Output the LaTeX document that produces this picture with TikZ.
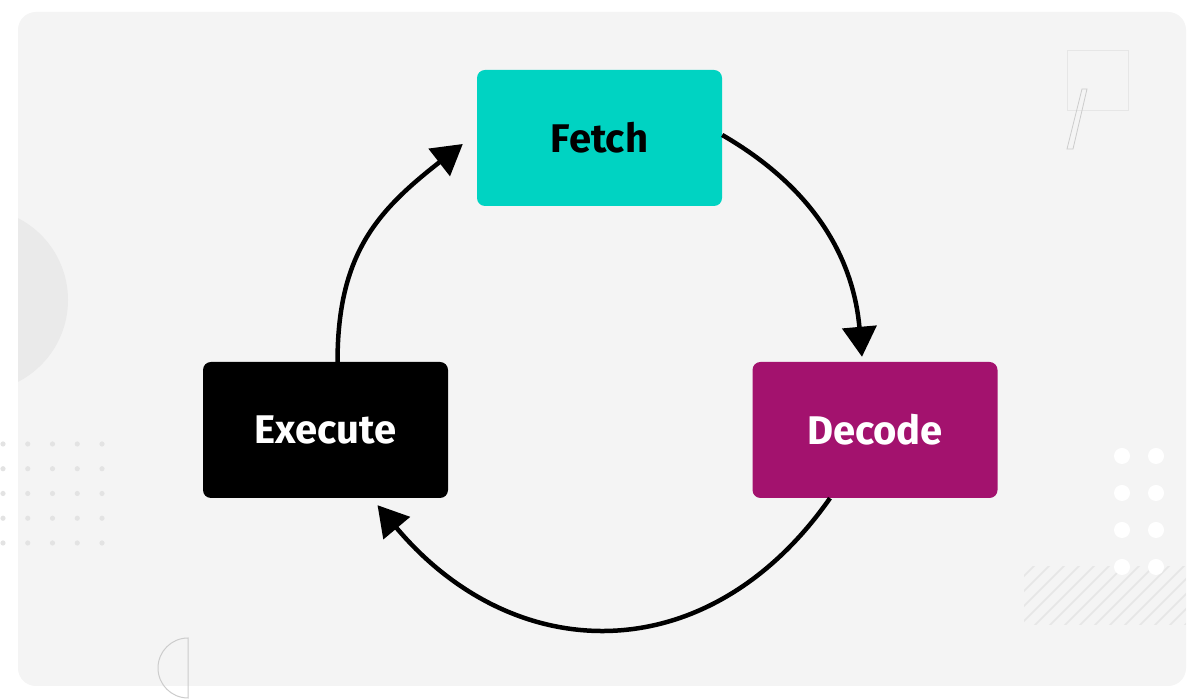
\documentclass[tikz,border=0pt]{standalone}
\usepackage{fontspec}
\setmainfont{Fira Sans}
\definecolor{fetchteal}{HTML}{00D3C2}
\definecolor{decodepurple}{HTML}{A3126E}
\definecolor{panelgray}{HTML}{F4F4F4}
\definecolor{blobgray}{HTML}{EAEAEA}
\definecolor{dotgray}{HTML}{E3E3E3}
\definecolor{squaregray}{HTML}{E6E6E6}
\definecolor{linegray}{HTML}{CCCCCC}
\usetikzlibrary{arrows.meta,positioning}

\begin{document}
\begin{tikzpicture}[x=1pt,y=1pt]
\tikzstyle{stage}=[rectangle, rounded corners=8pt, minimum width=245pt, minimum height=136pt, inner sep=0pt, font=\fontsize{40}{44}\selectfont\bfseries]
\tikzstyle{loopline}=[-{Triangle[length=30pt,width=34pt]}, line width=4.5pt, black]
\tikzstyle{deco}=[draw=linegray, line width=1pt]

\useasboundingbox (0,0) rectangle (1200,700);
\fill[white] (0,0) rectangle (1200,700);
\fill[panelgray, rounded corners=18pt] (18,14) rectangle (1186,688);

% background bits
\begin{scope}
  \clip[rounded corners=18pt] (18,14) rectangle (1186,688);
  \fill[blobgray] (-24,400) circle (92pt);
  \clip (1024,75) rectangle (1186,133);
  \foreach \k in {0,...,18}
    \draw[squaregray, line width=1.5pt] (930+15*\k,60) -- ++(90,90);
\end{scope}
\foreach \i in {0,...,4}
  \foreach \j in {0,...,4}
    \fill[dotgray] (3+24.75*\i,256-24.75*\j) circle (2.6pt);
\foreach \x in {1122,1156}
  \foreach \y in {244,207,170,133}
    \fill[white] (\x,\y) circle (8pt);
\draw[deco] (188,62) arc (90:270:30pt) -- cycle;
\draw[squaregray, line width=1pt] (1067,589) rectangle (1128,649);
\draw[deco, line width=0.8pt] (1082,611) -- (1087,611) -- (1073,551) -- (1067,551) -- cycle;

	\node[stage, fill=fetchteal, text=black] (fetch) at (599.5,562) {Fetch};
	\node[stage, fill=decodepurple, text=white] (decode) at (875,270) {Decode};
	\node[stage, fill=black, text=white] (execute) at (325.5,270) {Execute};

	\draw[loopline] (execute.80) to[out=90,in=-142,looseness=1.1] ([xshift=-14pt,yshift=-6pt]fetch.west);
	\draw[loopline] ([yshift=3pt]fetch.east) to[out=-30,in=95] ([xshift=-13pt,yshift=5pt]decode.north);
	\draw[loopline] ([xshift=-45pt]decode.south) to[out=-125,in=-50,looseness=1.2] ([xshift=52pt,yshift=-7pt]execute.south);
\end{tikzpicture}
\end{document}
